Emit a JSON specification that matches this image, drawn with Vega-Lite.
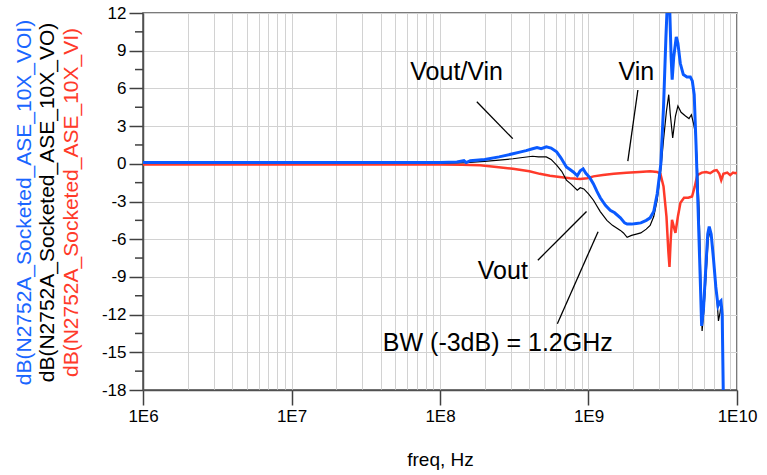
{
  "$schema": "https://vega.github.io/schema/vega-lite/v6.json",
  "width": 594,
  "height": 377,
  "autosize": {"type": "none"},
  "padding": {"left": 143, "top": 13, "right": 30, "bottom": 85},
  "background": "white",
  "config": {
    "view": {"stroke": "#505050", "strokeWidth": 1.5},
    "font": "Liberation Sans",
    "axis": {"labelFont": "Liberation Sans", "titleFont": "Liberation Sans", "labelFlush": false, "labelOverlap": false, "labelBound": false}
  },
  "datasets": {
    "voi": [
      {"f": 1e6, "db": 0.1}, {"f": 3e6, "db": 0.1}, {"f": 1e7, "db": 0.1}, {"f": 3e7, "db": 0.1}, {"f": 1e8, "db": 0.1},
      {"f": 1.3e8, "db": 0.15}, {"f": 1.45e8, "db": 0.25}, {"f": 1.5e8, "db": 0.1}, {"f": 1.6e8, "db": 0.25}, {"f": 2e8, "db": 0.35},
      {"f": 2.5e8, "db": 0.55}, {"f": 3.1e8, "db": 0.8}, {"f": 3.5e8, "db": 0.95}, {"f": 3.8e8, "db": 1.05}, {"f": 4.2e8, "db": 1.2},
      {"f": 4.5e8, "db": 1.3}, {"f": 4.8e8, "db": 1.2}, {"f": 5.2e8, "db": 1.35}, {"f": 5.6e8, "db": 1.25}, {"f": 6.1e8, "db": 0.95},
      {"f": 6.5e8, "db": 0.5}, {"f": 7.1e8, "db": -0.25}, {"f": 7.5e8, "db": -0.45}, {"f": 7.9e8, "db": -0.65}, {"f": 8.4e8, "db": -0.95},
      {"f": 8.8e8, "db": -0.55}, {"f": 9.2e8, "db": -0.4}, {"f": 9.6e8, "db": -0.75}, {"f": 1.02e9, "db": -1.1}, {"f": 1.08e9, "db": -1.6},
      {"f": 1.14e9, "db": -2.2}, {"f": 1.2e9, "db": -2.7}, {"f": 1.3e9, "db": -3.3}, {"f": 1.4e9, "db": -3.7}, {"f": 1.5e9, "db": -3.9},
      {"f": 1.64e9, "db": -4.3}, {"f": 1.75e9, "db": -4.7}, {"f": 1.82e9, "db": -4.8}, {"f": 1.95e9, "db": -4.8}, {"f": 2.1e9, "db": -4.75},
      {"f": 2.25e9, "db": -4.7}, {"f": 2.45e9, "db": -4.5}, {"f": 2.6e9, "db": -4.3}, {"f": 2.75e9, "db": -3.8}, {"f": 2.9e9, "db": -2.4},
      {"f": 3.0e9, "db": -1.0}, {"f": 3.07e9, "db": 0}, {"f": 3.2e9, "db": 4.5}, {"f": 3.32e9, "db": 10}, {"f": 3.4e9, "db": 13},
      {"f": 3.5e9, "db": 13.5}, {"f": 3.6e9, "db": 8.5}, {"f": 3.66e9, "db": 6.7}, {"f": 3.75e9, "db": 8.5}, {"f": 3.9e9, "db": 10.1},
      {"f": 4.0e9, "db": 9.6}, {"f": 4.15e9, "db": 8.0}, {"f": 4.35e9, "db": 7.1}, {"f": 4.6e9, "db": 6.9}, {"f": 4.85e9, "db": 6.9},
      {"f": 5.0e9, "db": 6.6}, {"f": 5.15e9, "db": 5.5}, {"f": 5.3e9, "db": 1.5}, {"f": 5.45e9, "db": -3}, {"f": 5.6e9, "db": -7.5},
      {"f": 5.78e9, "db": -12.9}, {"f": 5.95e9, "db": -11.5}, {"f": 6.15e9, "db": -8.5}, {"f": 6.35e9, "db": -5.6}, {"f": 6.5e9, "db": -5.0},
      {"f": 6.7e9, "db": -5.6}, {"f": 6.95e9, "db": -7.6}, {"f": 7.2e9, "db": -9.8}, {"f": 7.45e9, "db": -11.3}, {"f": 7.65e9, "db": -11.0},
      {"f": 7.8e9, "db": -10.9}, {"f": 7.95e9, "db": -12}, {"f": 8.1e9, "db": -19}
    ],
    "vo": [
      {"f": 1e6, "db": 0.05}, {"f": 1e8, "db": 0.05}, {"f": 1.5e8, "db": 0.1}, {"f": 2e8, "db": 0.2}, {"f": 2.5e8, "db": 0.3},
      {"f": 3.1e8, "db": 0.4}, {"f": 3.6e8, "db": 0.5}, {"f": 4.2e8, "db": 0.6}, {"f": 4.6e8, "db": 0.55}, {"f": 5.2e8, "db": 0.55},
      {"f": 5.6e8, "db": 0.35}, {"f": 6.1e8, "db": -0.1}, {"f": 6.6e8, "db": -0.6}, {"f": 7.1e8, "db": -1.3}, {"f": 7.6e8, "db": -1.6},
      {"f": 8.4e8, "db": -2.1}, {"f": 8.8e8, "db": -1.9}, {"f": 9.3e8, "db": -2.0}, {"f": 1.0e9, "db": -2.4}, {"f": 1.08e9, "db": -2.9},
      {"f": 1.2e9, "db": -3.8}, {"f": 1.33e9, "db": -4.5}, {"f": 1.45e9, "db": -4.9}, {"f": 1.64e9, "db": -5.3}, {"f": 1.72e9, "db": -5.5},
      {"f": 1.82e9, "db": -5.85}, {"f": 1.95e9, "db": -5.7}, {"f": 2.1e9, "db": -5.6}, {"f": 2.25e9, "db": -5.5}, {"f": 2.45e9, "db": -5.2},
      {"f": 2.6e9, "db": -4.9}, {"f": 2.75e9, "db": -4.2}, {"f": 2.9e9, "db": -2.9}, {"f": 3.05e9, "db": -0.8}, {"f": 3.2e9, "db": 1.9},
      {"f": 3.35e9, "db": 4.2}, {"f": 3.47e9, "db": 5.5}, {"f": 3.55e9, "db": 4.0}, {"f": 3.69e9, "db": 2.05}, {"f": 3.85e9, "db": 3.8},
      {"f": 4.0e9, "db": 4.6}, {"f": 4.2e9, "db": 4.1}, {"f": 4.5e9, "db": 3.8}, {"f": 4.75e9, "db": 3.6}, {"f": 4.93e9, "db": 3.9},
      {"f": 5.1e9, "db": 3.2}, {"f": 5.25e9, "db": 2.4}, {"f": 5.4e9, "db": 0}, {"f": 5.55e9, "db": -3.5}, {"f": 5.7e9, "db": -9},
      {"f": 5.82e9, "db": -13.3}, {"f": 6.0e9, "db": -11.5}, {"f": 6.15e9, "db": -9.5}, {"f": 6.4e9, "db": -6.0}, {"f": 6.6e9, "db": -5.3},
      {"f": 6.8e9, "db": -6.2}, {"f": 7.1e9, "db": -8.8}, {"f": 7.35e9, "db": -11}, {"f": 7.5e9, "db": -12.5}, {"f": 7.7e9, "db": -11.8},
      {"f": 7.83e9, "db": -11.1}, {"f": 7.95e9, "db": -12.8}
    ],
    "vi": [
      {"f": 1e6, "db": -0.05}, {"f": 1e7, "db": -0.05}, {"f": 1e8, "db": -0.05}, {"f": 1.4e8, "db": -0.08}, {"f": 1.86e8, "db": -0.12},
      {"f": 2.4e8, "db": -0.25}, {"f": 3.1e8, "db": -0.4}, {"f": 4.0e8, "db": -0.6}, {"f": 4.7e8, "db": -0.8}, {"f": 5.5e8, "db": -0.95},
      {"f": 6.4e8, "db": -1.05}, {"f": 7.5e8, "db": -1.15}, {"f": 8.8e8, "db": -1.2}, {"f": 9.8e8, "db": -1.15}, {"f": 1.08e9, "db": -1.0},
      {"f": 1.25e9, "db": -0.9}, {"f": 1.48e9, "db": -0.8}, {"f": 1.8e9, "db": -0.72}, {"f": 2.2e9, "db": -0.65}, {"f": 2.6e9, "db": -0.6},
      {"f": 2.9e9, "db": -0.65}, {"f": 3.05e9, "db": -0.8}, {"f": 3.2e9, "db": -1.8}, {"f": 3.35e9, "db": -4.2}, {"f": 3.45e9, "db": -7},
      {"f": 3.51e9, "db": -8.2}, {"f": 3.58e9, "db": -6}, {"f": 3.65e9, "db": -4.45}, {"f": 3.75e9, "db": -5}, {"f": 3.85e9, "db": -5.5},
      {"f": 4.0e9, "db": -4.2}, {"f": 4.16e9, "db": -3.1}, {"f": 4.4e9, "db": -2.7}, {"f": 4.7e9, "db": -2.7}, {"f": 4.98e9, "db": -2.6},
      {"f": 5.2e9, "db": -1.8}, {"f": 5.4e9, "db": -0.9}, {"f": 5.8e9, "db": -0.7}, {"f": 6.2e9, "db": -0.65}, {"f": 6.6e9, "db": -0.75},
      {"f": 7.0e9, "db": -0.55}, {"f": 7.3e9, "db": -0.5}, {"f": 7.6e9, "db": -0.8}, {"f": 7.83e9, "db": -1.3}, {"f": 8.1e9, "db": -0.8},
      {"f": 8.6e9, "db": -0.7}, {"f": 9.0e9, "db": -0.9}, {"f": 9.4e9, "db": -0.7}, {"f": 9.73e9, "db": -0.75}, {"f": 1e10, "db": -0.7}
    ],
    "minor": [
      {"v": -16.5}, {"v": -13.5}, {"v": -10.5}, {"v": -7.5}, {"v": -4.5}, {"v": -1.5}, {"v": 1.5}, {"v": 4.5}, {"v": 7.5}, {"v": 10.5}
    ],
    "notes": [
      {"f": 1.295e8, "db": 7.3, "label": "Vout/Vin"},
      {"f": 2.1e9, "db": 7.3, "label": "Vin"},
      {"f": 2.65e8, "db": -8.5, "label": "Vout"},
      {"f": 2.45e8, "db": -14.28, "label": "BW (-3dB) = 1.2GHz"}
    ],
    "leaders": [
      {"f": 1.77e8, "db": 4.94, "f2": 3.09e8, "db2": 2.0},
      {"f": 2.15e9, "db": 5.87, "f2": 1.84e9, "db2": 0.21},
      {"f": 4.56e8, "db": -7.67, "f2": 9.7e8, "db2": -3.8},
      {"f": 1.16e9, "db": -5.4, "f2": 6.17e8, "db2": -12.72}
    ]
  },
  "layer": [
    {
      "data": {"name": "vi"},
      "mark": {"type": "line", "color": "#ff3a2a", "strokeWidth": 2.5, "clip": true},
      "encoding": {
        "x": {"field": "f", "type": "quantitative",
          "scale": {"type": "log", "domain": [1e6, 1e10], "nice": false, "zero": false},
          "axis": {"orient": "bottom", "values": [1e6, 1e7, 1e8, 1e9, 1e10],
            "labelExpr": "'1E' + round(log(datum.value)/LN10)",
            "tickSize": 15, "tickColor": "#404040", "tickWidth": 1.5,
            "domainColor": "#505050", "domainWidth": 1.5,
            "labelFontSize": 17, "labelColor": "black", "labelPadding": 3,
            "grid": true, "gridColor": "#d2d2d2", "gridWidth": 1,
            "title": "freq, Hz", "titleFontSize": 19, "titleFontWeight": "normal", "titleColor": "black",
            "titleY": 75, "titleBaseline": "alphabetic"}},
        "y": {"field": "db", "type": "quantitative",
          "scale": {"domain": [-18, 12], "nice": false, "zero": false},
          "axis": {"orient": "left", "values": [-18, -15, -12, -9, -6, -3, 0, 3, 6, 9, 12],
            "labelExpr": "'' + datum.value",
            "tickSize": 14, "tickColor": "#404040", "tickWidth": 1.5,
            "domainColor": "#505050", "domainWidth": 1.5,
            "labelFontSize": 17, "labelColor": "black", "labelPadding": 3,
            "grid": true, "gridColor": "#d2d2d2", "gridWidth": 1,
            "title": "dB(N2752A_Socketed_ASE_10X_VI)", "titleColor": "#ff3a2a", "titleFontSize": 21, "titleFontWeight": "normal",
            "titleAngle": 270, "titleX": -72, "titleY": 189, "titleAlign": "center", "titleBaseline": "middle"}}
      }
    },
    {
      "data": {"name": "vo"},
      "mark": {"type": "line", "color": "#000000", "strokeWidth": 1.2, "clip": true},
      "encoding": {
        "x": {"field": "f", "type": "quantitative",
          "scale": {"type": "log", "domain": [1e6, 1e10], "nice": false, "zero": false},
          "axis": {"orient": "bottom",
            "values": [2e6, 3e6, 4e6, 5e6, 6e6, 7e6, 8e6, 9e6, 2e7, 3e7, 4e7, 5e7, 6e7, 7e7, 8e7, 9e7, 2e8, 3e8, 4e8, 5e8, 6e8, 7e8, 8e8, 9e8, 2e9, 3e9, 4e9, 5e9, 6e9, 7e9, 8e9, 9e9],
            "ticks": false, "labels": false, "domain": false,
            "grid": true, "gridColor": "#d2d2d2", "gridWidth": 1, "title": null}},
        "y": {"field": "db", "type": "quantitative",
          "scale": {"domain": [-18, 12], "nice": false, "zero": false},
          "axis": {"orient": "left", "values": [],
            "ticks": false, "labels": false, "domain": false, "grid": false,
            "title": "dB(N2752A_Socketed_ASE_10X_VO)", "titleColor": "#000000", "titleFontSize": 21, "titleFontWeight": "normal",
            "titleAngle": 270, "titleX": -96, "titleY": 189, "titleAlign": "center", "titleBaseline": "middle"}}
      }
    },
    {
      "data": {"name": "voi"},
      "mark": {"type": "line", "color": "#0a5aff", "strokeWidth": 3, "clip": true},
      "encoding": {
        "x": {"field": "f", "type": "quantitative",
          "scale": {"type": "log", "domain": [1e6, 1e10], "nice": false, "zero": false},
          "axis": null},
        "y": {"field": "db", "type": "quantitative",
          "scale": {"domain": [-18, 12], "nice": false, "zero": false},
          "axis": {"orient": "left", "values": [],
            "ticks": false, "labels": false, "domain": false, "grid": false,
            "title": "dB(N2752A_Socketed_ASE_10X_VOI)", "titleColor": "#1a66ff", "titleFontSize": 21, "titleFontWeight": "normal",
            "titleAngle": 270, "titleX": -119, "titleY": 189, "titleAlign": "center", "titleBaseline": "middle"}}
      }
    },
    {
      "data": {"name": "minor"},
      "mark": {"type": "tick", "orient": "horizontal", "size": 8, "thickness": 1.5, "color": "#404040", "opacity": 1, "xOffset": -4},
      "encoding": {
        "x": {"datum": 1e6, "type": "quantitative", "axis": null},
        "y": {"field": "v", "type": "quantitative", "axis": null}
      }
    },
    {
      "data": {"name": "leaders"},
      "mark": {"type": "rule", "color": "#000000", "strokeWidth": 1.3},
      "encoding": {
        "x": {"field": "f", "type": "quantitative", "axis": null},
        "x2": {"field": "f2"},
        "y": {"field": "db", "type": "quantitative", "axis": null},
        "y2": {"field": "db2"}
      }
    },
    {
      "data": {"name": "notes"},
      "mark": {"type": "text", "font": "Liberation Sans", "fontSize": 25, "color": "#000000", "align": "center", "baseline": "middle"},
      "encoding": {
        "x": {"field": "f", "type": "quantitative", "axis": null},
        "y": {"field": "db", "type": "quantitative", "axis": null},
        "text": {"field": "label"}
      }
    }
  ],
  "resolve": {"axis": {"x": "independent", "y": "independent"}}
}
